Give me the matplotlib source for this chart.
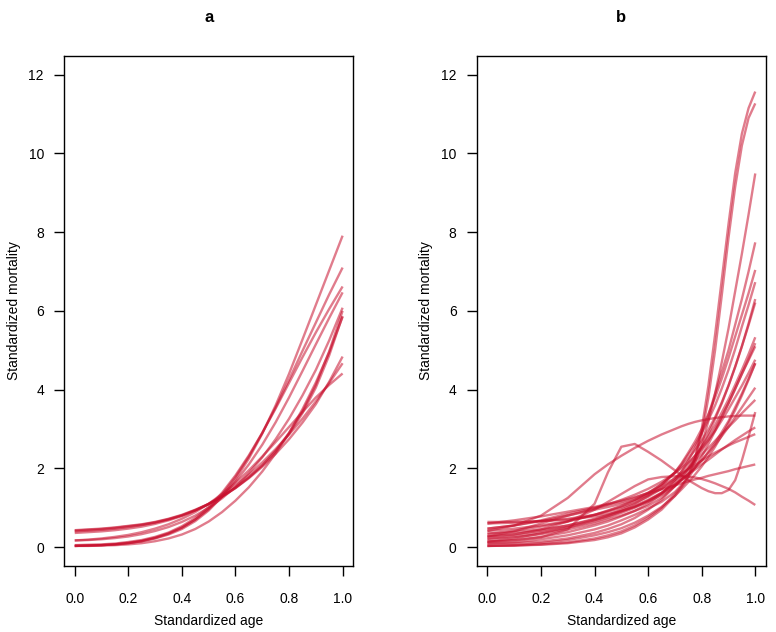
import matplotlib
matplotlib.use("Agg")
import matplotlib.pyplot as plt

# === data: panel a (x step 0.05) ===
x_a = [0.0, 0.05, 0.1, 0.15, 0.2, 0.25, 0.3, 0.35, 0.4, 0.45, 0.5,
       0.55, 0.6, 0.65, 0.7, 0.75, 0.8, 0.85, 0.9, 0.95, 1.0]
curves_a = [
    [0.43, 0.45, 0.47, 0.50, 0.54, 0.58, 0.64, 0.72, 0.82, 0.95, 1.10, 1.29, 1.51, 1.77, 2.07, 2.43, 2.87, 3.40, 4.05, 4.87, 5.87],
    [0.42, 0.44, 0.46, 0.49, 0.53, 0.57, 0.63, 0.71, 0.81, 0.94, 1.09, 1.28, 1.50, 1.77, 2.08, 2.45, 2.90, 3.45, 4.12, 4.97, 6.00],
    [0.40, 0.42, 0.44, 0.47, 0.51, 0.56, 0.62, 0.70, 0.80, 0.93, 1.09, 1.28, 1.50, 1.75, 2.04, 2.37, 2.74, 3.16, 3.63, 4.20, 4.84],
    [0.36, 0.38, 0.40, 0.43, 0.47, 0.52, 0.59, 0.68, 0.79, 0.93, 1.10, 1.31, 1.56, 1.84, 2.15, 2.49, 2.86, 3.26, 3.70, 4.17, 4.67],
    [0.17, 0.19, 0.22, 0.26, 0.31, 0.38, 0.47, 0.58, 0.72, 0.89, 1.10, 1.35, 1.63, 1.95, 2.30, 2.67, 3.05, 3.43, 3.80, 4.12, 4.41],
    [0.03, 0.04, 0.05, 0.07, 0.10, 0.15, 0.22, 0.32, 0.46, 0.66, 0.93, 1.28, 1.72, 2.25, 2.88, 3.60, 4.40, 5.27, 6.15, 7.03, 7.91],
    [0.03, 0.04, 0.05, 0.07, 0.10, 0.15, 0.23, 0.34, 0.49, 0.70, 0.98, 1.34, 1.78, 2.30, 2.90, 3.55, 4.25, 4.98, 5.70, 6.42, 7.10],
    [0.05, 0.06, 0.07, 0.09, 0.13, 0.18, 0.26, 0.37, 0.53, 0.74, 1.02, 1.38, 1.82, 2.33, 2.90, 3.52, 4.17, 4.82, 5.45, 6.05, 6.62],
    [0.03, 0.04, 0.05, 0.07, 0.11, 0.16, 0.24, 0.35, 0.50, 0.70, 0.96, 1.28, 1.66, 2.10, 2.60, 3.17, 3.80, 4.47, 5.15, 5.82, 6.47],
    [0.17, 0.18, 0.20, 0.23, 0.27, 0.33, 0.41, 0.51, 0.64, 0.80, 1.00, 1.24, 1.53, 1.88, 2.28, 2.74, 3.26, 3.85, 4.50, 5.25, 6.08],
    [0.03, 0.03, 0.04, 0.05, 0.07, 0.10, 0.15, 0.22, 0.32, 0.46, 0.65, 0.89, 1.18, 1.52, 1.92, 2.38, 2.90, 3.50, 4.18, 4.95, 5.85],
]

# === data: panel b (finer steps where curves bend) ===
x_b = [0.0, 0.1, 0.2, 0.3, 0.4, 0.45, 0.5, 0.55, 0.6, 0.65, 0.7, 0.725,
       0.75, 0.775, 0.8, 0.825, 0.85, 0.875, 0.9, 0.925, 0.95, 0.975, 1.0]
curves_b = [
    [0.09, 0.12, 0.20, 0.30, 0.45, 0.55, 0.68, 0.82, 0.98, 1.15, 1.40, 1.58, 1.80, 2.25, 3.00, 4.10, 5.40, 6.80, 8.20, 9.50, 10.50, 11.15, 11.57],
    [0.21, 0.25, 0.33, 0.45, 0.60, 0.70, 0.80, 0.92, 1.05, 1.25, 1.55, 1.72, 1.92, 2.25, 2.85, 3.80, 5.00, 6.40, 7.85, 9.15, 10.20, 10.90, 11.27],
    [0.03, 0.04, 0.07, 0.12, 0.22, 0.30, 0.40, 0.55, 0.75, 1.00, 1.35, 1.55, 1.80, 2.15, 2.60, 3.20, 3.90, 4.70, 5.55, 6.50, 7.45, 8.45, 9.49],
    [0.14, 0.18, 0.26, 0.38, 0.55, 0.65, 0.78, 0.92, 1.10, 1.35, 1.70, 1.92, 2.20, 2.52, 2.90, 3.35, 3.90, 4.45, 5.00, 5.65, 6.30, 7.00, 7.74],
    [0.27, 0.33, 0.42, 0.55, 0.72, 0.82, 0.95, 1.10, 1.30, 1.55, 1.90, 2.13, 2.40, 2.68, 3.00, 3.38, 3.80, 4.28, 4.80, 5.35, 5.90, 6.45, 7.04],
    [0.41, 0.47, 0.55, 0.66, 0.82, 0.92, 1.03, 1.17, 1.35, 1.60, 1.90, 2.10, 2.35, 2.60, 2.90, 3.23, 3.60, 4.03, 4.50, 5.03, 5.60, 6.15, 6.73],
    [0.09, 0.10, 0.14, 0.22, 0.36, 0.46, 0.58, 0.74, 0.95, 1.20, 1.55, 1.76, 2.00, 2.26, 2.55, 2.88, 3.25, 3.65, 4.10, 4.58, 5.10, 5.68, 6.30],
    [0.34, 0.42, 0.52, 0.65, 0.82, 0.93, 1.05, 1.20, 1.38, 1.60, 1.88, 2.05, 2.25, 2.46, 2.70, 2.98, 3.30, 3.68, 4.10, 4.58, 5.10, 5.64, 6.21],
    [0.60, 0.62, 0.66, 0.72, 0.82, 0.90, 1.00, 1.12, 1.28, 1.48, 1.75, 1.92, 2.10, 2.32, 2.55, 2.82, 3.10, 3.42, 3.75, 4.12, 4.50, 4.90, 5.33],
    [0.21, 0.28, 0.38, 0.50, 0.65, 0.75, 0.87, 1.00, 1.17, 1.38, 1.65, 1.82, 2.00, 2.22, 2.45, 2.72, 3.00, 3.32, 3.65, 4.02, 4.40, 4.78, 5.18],
    [0.03, 0.04, 0.06, 0.10, 0.18, 0.25, 0.35, 0.50, 0.70, 0.95, 1.30, 1.52, 1.75, 2.02, 2.30, 2.62, 2.95, 3.30, 3.65, 4.02, 4.40, 4.75, 5.10],
    [0.47, 0.55, 0.66, 0.80, 0.98, 1.08, 1.20, 1.33, 1.48, 1.66, 1.88, 2.01, 2.15, 2.32, 2.50, 2.72, 2.95, 3.22, 3.50, 3.80, 4.10, 4.42, 4.76],
    [0.14, 0.22, 0.35, 0.50, 0.68, 0.78, 0.90, 1.03, 1.18, 1.36, 1.58, 1.71, 1.85, 2.02, 2.20, 2.42, 2.65, 2.92, 3.20, 3.55, 3.90, 4.28, 4.67],
    [0.64, 0.64, 0.66, 0.70, 0.78, 0.84, 0.92, 1.02, 1.15, 1.32, 1.55, 1.70, 1.85, 2.02, 2.20, 2.40, 2.60, 2.82, 3.05, 3.30, 3.55, 3.80, 4.05],
    [0.27, 0.40, 0.60, 0.80, 0.95, 1.02, 1.10, 1.20, 1.32, 1.48, 1.70, 1.85, 2.00, 2.17, 2.35, 2.52, 2.70, 2.88, 3.05, 3.22, 3.40, 3.57, 3.74],
    [0.14, 0.17, 0.25, 0.45, 1.10, 1.90, 2.55, 2.62, 2.42, 2.20, 1.95, 1.82, 1.70, 1.60, 1.50, 1.42, 1.37, 1.37, 1.45, 1.70, 2.20, 2.80, 3.43],
    [0.41, 0.55, 0.80, 1.25, 1.85, 2.10, 2.32, 2.52, 2.70, 2.86, 3.00, 3.07, 3.13, 3.18, 3.22, 3.25, 3.28, 3.30, 3.32, 3.33, 3.34, 3.34, 3.34],
    [0.34, 0.38, 0.45, 0.55, 0.70, 0.80, 0.92, 1.05, 1.20, 1.38, 1.60, 1.72, 1.85, 1.97, 2.10, 2.22, 2.35, 2.48, 2.60, 2.72, 2.83, 2.94, 3.04],
    [0.47, 0.55, 0.68, 0.85, 1.00, 1.08, 1.15, 1.25, 1.38, 1.55, 1.75, 1.87, 1.98, 2.09, 2.20, 2.30, 2.40, 2.49, 2.58, 2.66, 2.73, 2.80, 2.87],
    [0.60, 0.68, 0.78, 0.90, 1.02, 1.10, 1.18, 1.27, 1.37, 1.47, 1.57, 1.62, 1.67, 1.72, 1.76, 1.81, 1.85, 1.89, 1.93, 1.98, 2.02, 2.06, 2.10],
    [0.27, 0.32, 0.45, 0.65, 0.95, 1.15, 1.35, 1.55, 1.72, 1.78, 1.80, 1.80, 1.79, 1.77, 1.73, 1.68, 1.62, 1.55, 1.48, 1.39, 1.28, 1.18, 1.07],
    [0.03, 0.05, 0.10, 0.18, 0.30, 0.38, 0.48, 0.62, 0.80, 1.02, 1.30, 1.47, 1.65, 1.84, 2.05, 2.29, 2.55, 2.84, 3.15, 3.48, 3.85, 4.25, 4.67],
]

panel_titles = ["a", "b"]
xticks = [0.0, 0.2, 0.4, 0.6, 0.8, 1.0]
yticks = [0, 2, 4, 6, 8, 10, 12]

line_col = "#C8102E"

plt.rcParams['font.family'] = ['Liberation Sans', 'DejaVu Sans']
fig = plt.figure(figsize=(7.76, 6.32), dpi=100)

ax_pos = [[0.0825, 0.1044, 0.3728, 0.8074],
          [0.6143, 0.1044, 0.3728, 0.8074]]

for k, (xs, curves) in enumerate([(x_a, curves_a), (x_b, curves_b)]):
    ax = fig.add_axes(ax_pos[k])
    for ys in curves:
        ax.plot(xs, ys, color=line_col, alpha=0.55, lw=1.7, solid_capstyle='butt')
    ax.set_xlim(-0.04, 1.04)
    ax.set_ylim(-0.48, 12.48)
    ax.set_xticks(xticks)
    ax.set_xticklabels([f"{t:.1f}" for t in xticks])
    ax.set_yticks(yticks)
    ax.tick_params(direction='out', length=7.5, width=1.0, labelsize=10)
    ax.tick_params(axis='x', pad=11)
    ax.tick_params(axis='y', pad=7)
    for s in ax.spines.values():
        s.set_linewidth(1.0)
    ax.set_xlabel("Standardized age", fontsize=10)
    ax.xaxis.set_label_coords(0.5, -0.095)
    ax.set_ylabel("Standardized mortality", fontsize=10)
    ax.yaxis.set_label_coords(-0.15, 0.5)
    ax.set_title(panel_titles[k], fontsize=12, fontweight='bold', y=1.05)

fig.savefig("out.png", dpi=100)
